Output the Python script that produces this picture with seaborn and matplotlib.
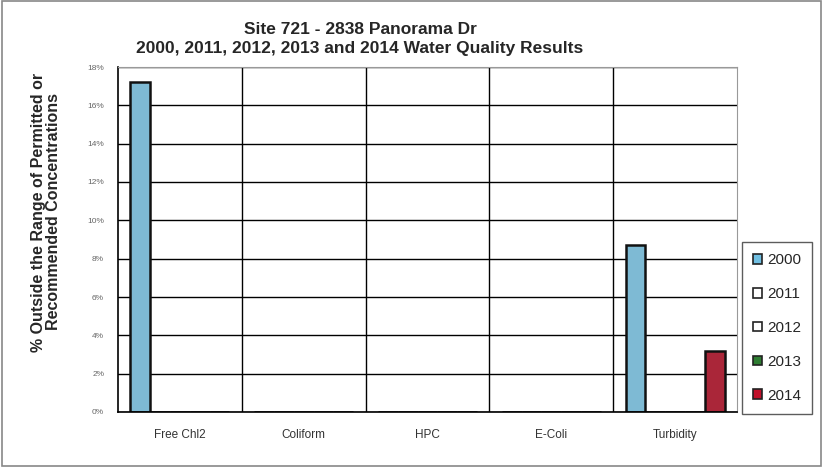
import matplotlib
matplotlib.use("Agg")
import matplotlib.pyplot as plt
import seaborn as sns
import pandas as pd
from matplotlib.patches import Patch, Rectangle

categories = ["Free Chl2", "Coliform", "HPC", "E-Coli", "Turbidity"]
years = ["2000", "2011", "2012", "2013", "2014"]
# % outside range, per year, per category
vals_2000 = [17.2, 0, 0, 0, 8.7]
vals_2011 = [0, 0, 0, 0, 0]
vals_2012 = [0, 0, 0, 0, 0]
vals_2013 = [0, 0, 0, 0, 0]
vals_2014 = [0, 0, 0, 0, 3.2]
colors = ["#70bfe2", "#ffffff", "#ffffff", "#2e7d32", "#c0102a"]

series = [vals_2000, vals_2011, vals_2012, vals_2013, vals_2014]
rows = []
for yr, vals in zip(years, series):
    for c, v in zip(categories, vals):
        rows.append({"category": c, "year": yr, "value": v})
df = pd.DataFrame(rows)

sns.set_style("white")
plt.rcParams["font.family"] = ["Liberation Sans", "DejaVu Sans"]

fig = plt.figure(figsize=(8.24, 4.67), dpi=100)
ax = fig.add_axes([118 / 824, 55 / 467, 619 / 824, 345 / 467])

sns.barplot(data=df, x="category", y="value", hue="year", hue_order=years,
            palette=colors, order=categories, width=0.8, ax=ax,
            edgecolor="#111111", linewidth=1.8, legend=False)

ax.set_ylim(0, 18)
ax.set_xlim(-0.5, 4.5)
ax.set_yticks(range(0, 19, 2))
ax.set_yticklabels([f"{t}%" for t in range(0, 19, 2)], fontsize=6, color="#666666")
ax.set_xticks(range(len(categories)))
ax.set_xticklabels(categories, fontsize=8.5, color="#333333")
ax.tick_params(axis="x", length=0, pad=12)
ax.tick_params(axis="y", length=4, width=1, color="black", direction="out", pad=6)
ax.set_xticks([0.5, 1.5, 2.5, 3.5], minor=True)
ax.grid(axis="y", color="black", linewidth=1.0)
ax.grid(axis="x", which="minor", color="black", linewidth=1.0)
ax.grid(axis="x", which="major", visible=False)
ax.set_axisbelow(True)
ax.set_xlabel("")
ax.set_ylabel("")
for s in ["left", "bottom"]:
    ax.spines[s].set_color("black")
    ax.spines[s].set_linewidth(1.2)
for s in ["top", "right"]:
    ax.spines[s].set_color("#999999")
    ax.spines[s].set_linewidth(0.8)

fig.text(360 / 824, 1 - 30 / 467, "Site 721 - 2838 Panorama Dr", ha="center", va="center",
         fontsize=12.5, fontweight="bold")
fig.text(360 / 824, 1 - 48 / 467, "2000, 2011, 2012, 2013 and 2014 Water Quality Results",
         ha="center", va="center", fontsize=12.5, fontweight="bold")
fig.text(46 / 824, 1 - 212 / 467,
         "% Outside the Range of Permitted or\nRecommended Concentrations",
         ha="center", va="center", rotation=90, fontsize=11.5, fontweight="bold",
         linespacing=1.05)

handles = [Patch(facecolor=c, edgecolor="#222222", linewidth=1.2) for c in colors]
leg = fig.legend(handles, years, loc="center", bbox_to_anchor=(777 / 824, 1 - 328 / 467),
                 fontsize=11, frameon=True, fancybox=False, edgecolor="#333333",
                 handlelength=0.6, handleheight=0.6, handletextpad=0.3,
                 labelspacing=1.3, borderpad=0.75, borderaxespad=0)
leg.get_frame().set_linewidth(1.0)

fig.patches.append(Rectangle((0.002, 0.003), 0.994, 0.994, transform=fig.transFigure,
                             fill=False, edgecolor="#888888", linewidth=1.2))

fig.savefig("out.png", dpi=100)
